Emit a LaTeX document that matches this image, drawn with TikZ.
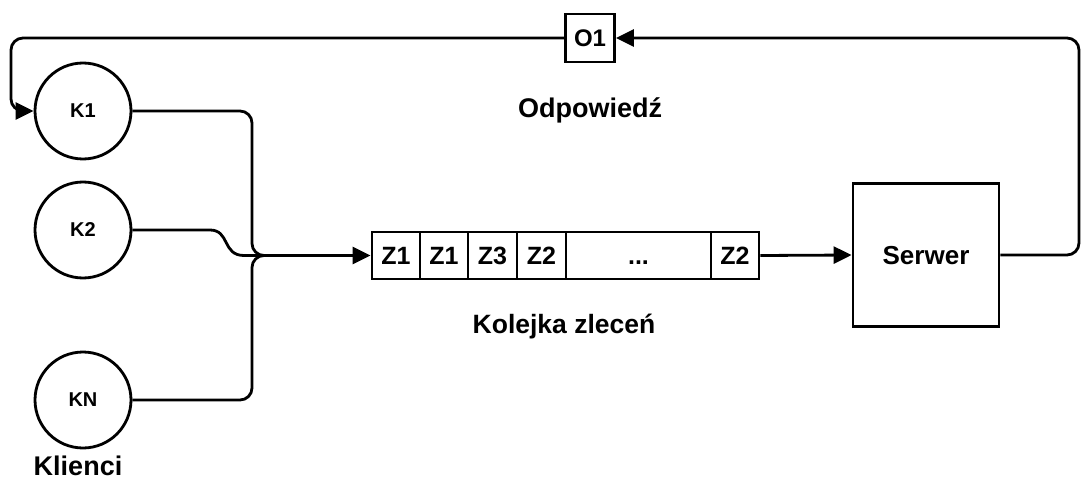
\documentclass[tikz,border=0pt]{standalone}
\usepackage{fontspec}
\setmainfont{Liberation Sans}
\usetikzlibrary{arrows.meta}
\begin{document}
\begin{tikzpicture}[x=1pt,y=-1pt,
  every node/.style={font=\bfseries},
  conn/.style={line width=2.8pt, rounded corners=12pt},
  arr/.style={-{Triangle[length=18pt,width=17pt]}},
  client/.style={circle, draw, line width=2.8pt, minimum size=96pt, inner sep=0pt, font=\fontsize{20}{22}\bfseries},
  cell/.style={rectangle, draw, line width=2.8pt, minimum height=47pt, inner sep=0pt, text height=18pt, text depth=0pt, font=\fontsize{25}{28}\bfseries},
  lbl/.style={font=\fontsize{27}{30}\bfseries}]
\useasboundingbox (0,0) rectangle (1083,481);
% clients
\node[client] (K1) at (83,111) {K1};
\node[client] (K2) at (83,230) {K2};
\node[client] (KN) at (83,400) {KN};
\node[lbl] (kl) at (78,466) {Klienci};
% queue
\node[cell, minimum width=48pt] (q1) at (396,255.5) {Z1};
\node[cell, minimum width=48pt] (q2) at (444,255.5) {Z1};
\node[cell, minimum width=49pt] (q3) at (492.5,255.5) {Z3};
\node[cell, minimum width=49pt] (q4) at (541.5,255.5) {Z2};
\node[cell, minimum width=145pt] (q5) at (638.5,255.5) {...};
\node[cell, minimum width=48pt] (q6) at (735,255.5) {Z2};
\node[lbl, font=\fontsize{26.5}{30}\bfseries] (kz) at (564,327) {Kolejka zleceń};
% server
\node[cell, minimum width=146pt, minimum height=143pt, font=\fontsize{26}{28}\bfseries] (srv) at (926,255) {Serwer};
% response
\node[cell, minimum width=49pt, minimum height=48pt, font=\fontsize{24}{28}\bfseries] (o1) at (590,38) {O1};
\node[lbl] (od) at (590,110) {Odpowiedź};
% connectors
\coordinate (merge) at (285,255.5);
\draw[conn] (K1.east) -- (252,111) -- (252,255.5) -- (merge);
\draw[conn] (KN.east) -- (252,400) -- (252,255.5) -- (merge);
\draw[line width=2.8pt, arr] (K2.east) -- (210,230) .. controls (230,230) and (222,255.5) .. (244,255.5) -- (q1.west);
\draw[conn, arr] (q6.east) -- (srv.west);
\draw[conn, arr] (srv.east) -- (1079,255) -- (1079,38) -- (o1.east);
\draw[conn, arr] (o1.west) -- (11,38) -- (11,111) -- (K1.west);
\end{tikzpicture}
\end{document}
